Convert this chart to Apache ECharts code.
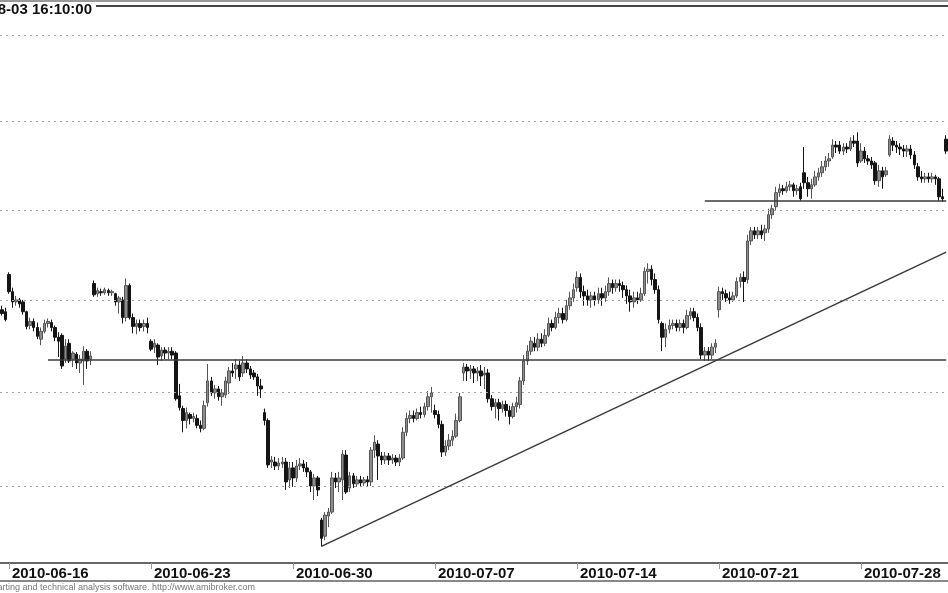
<!DOCTYPE html>
<html><head><meta charset="utf-8">
<script src="https://cdn.jsdelivr.net/npm/echarts@6/dist/echarts.min.js"></script>
<style>html,body{margin:0;padding:0;background:#fff}#c{width:948px;height:593px}</style>
</head><body><div id="c"></div>
<script>
const tradingDays = ['2010-06-15','2010-06-16','2010-06-17','2010-06-18','2010-06-21','2010-06-22','2010-06-23','2010-06-24','2010-06-25','2010-06-28','2010-06-29','2010-06-30','2010-07-01','2010-07-02','2010-07-05','2010-07-06','2010-07-07','2010-07-08','2010-07-09','2010-07-12','2010-07-13','2010-07-14','2010-07-15','2010-07-16','2010-07-19','2010-07-20','2010-07-21','2010-07-22','2010-07-23','2010-07-26','2010-07-27','2010-07-28','2010-07-29','2010-07-30','2010-08-02'];
const sessionHours = ['09:00','10:00','11:00','12:00','13:00','14:00','15:00','16:00'];
const firstBar = 6, barCount = 267;
const weekLabelDays = ['2010-06-16','2010-06-23','2010-06-30','2010-07-07','2010-07-14','2010-07-21','2010-07-28'];
const gridLevels = [2300,2350,2400,2450,2500,2550];
const supportLine = [[13,2367.2],[266,2367.2]];
const resistanceLine = [[198,2455.1],[266,2455.1]];
const trendLine = [[90,2268.4],[266,2426.4]];
const titleText = '2010-08-03 16:10:00';
const footerText = 'AmiBroker - charting and technical analysis software. http://www.amibroker.com';

const openP = [2394.6,2393.5,
2414.0,2404.5,2398.9,2400.0,2398.9,2393.5,2386.0,2388.2,
2384.9,2378.5,2382.8,2387.1,2387.6,2384.9,2379.6,2380.6,
2367.7,2376.3,2367.7,2370.4,2365.6,2366.7,2372.0,2367.7,
2409.0,2403.4,2404.5,2403.9,2405.1,2403.9,2403.4,2398.9,
2400.0,2390.3,2407.9,2390.3,2385.5,2387.1,2385.5,2387.1,
2377.4,2374.2,2375.3,2369.4,2372.6,2371.0,2372.0,2371.0,
2347.9,2341.1,2334.7,2337.9,2335.8,2335.8,2332.1,2330.5,
2344.2,2355.9,2349.5,2351.6,2347.4,2348.4,2354.8,2361.3,
2362.4,2364.5,2360.2,2365.6,2362.4,2360.2,2358.1,2353.2,
2338.9,2334.7,2312.6,2312.6,2310.5,2311.6,2312.6,2303.2,
2309.5,2304.2,2310.5,2311.6,2309.5,2307.4,2300.0,2304.2,
2282.1,2273.7,2284.2,2286.3,2304.2,2302.1,2303.2,2316.3,
2298.9,2305.3,2301.1,2303.2,2301.6,2303.2,2302.1,2318.9,
2322.1,2315.8,2313.7,2315.8,2313.7,2314.7,2312.6,2314.7,
2328.4,2335.8,2337.4,2335.8,2338.9,2337.9,2342.1,2347.4,
2340.0,2337.9,2332.6,2317.9,2321.1,2324.2,2326.3,2334.7,
2360.2,2363.4,2361.3,2362.4,2360.2,2361.3,2359.1,2360.2,
2346.3,2342.1,2344.2,2341.1,2343.2,2340.0,2336.8,2342.1,
2343.2,2355.9,2366.7,2372.0,2376.3,2374.2,2378.5,2376.3,
2380.6,2387.1,2384.9,2390.3,2392.5,2389.2,2396.8,2401.1,
2406.7,2412.4,2404.5,2402.2,2400.0,2402.2,2400.0,2403.4,
2401.1,2404.5,2409.0,2406.7,2409.0,2407.9,2405.6,2402.2,
2398.9,2401.1,2400.0,2403.4,2415.7,2416.9,2411.2,2405.6,
2387.1,2379.6,2383.9,2386.0,2387.1,2384.9,2387.1,2384.9,
2391.4,2393.5,2390.3,2384.9,2369.9,2372.0,2369.9,2374.2,
2394.6,2404.5,2403.4,2401.1,2400.0,2402.2,2410.1,2412.4,
2411.2,2432.6,2438.2,2436.0,2438.2,2437.1,2439.3,2447.2,
2451.7,2459.6,2461.8,2460.7,2462.9,2464.0,2460.7,2462.9,
2470.8,2465.2,2461.8,2464.0,2468.5,2470.8,2474.2,2477.5,
2479.8,2486.5,2486.5,2483.1,2485.4,2484.3,2488.8,2488.8,
2477.5,2483.1,2478.7,2477.5,2476.4,2466.3,2471.9,2469.7,
2480.9,2488.8,2486.5,2485.4,2484.3,2483.1,2484.3,2480.9,
2474.2,2468.5,2467.4,2468.5,2467.4,2468.5,2467.4,2457.3,
2489.9];

const closeP = [2392.5,2389.2,
2404.5,2398.9,2400.0,2397.8,2393.5,2385.5,2388.2,2384.9,
2380.1,2382.8,2387.1,2388.2,2384.9,2379.6,2377.4,2364.0,
2374.7,2366.7,2371.0,2365.6,2367.7,2372.0,2366.7,2369.4,
2402.8,2405.1,2403.9,2405.6,2403.9,2404.5,2398.9,2401.1,
2390.3,2407.9,2390.3,2385.5,2387.1,2384.9,2387.1,2384.9,
2373.1,2376.3,2368.8,2372.6,2371.0,2372.0,2369.9,2346.3,
2341.6,2334.7,2338.9,2335.8,2336.8,2332.1,2330.5,2342.6,
2355.9,2349.5,2351.6,2347.4,2349.5,2355.9,2361.3,2360.2,
2364.5,2358.1,2365.6,2362.4,2359.1,2358.1,2353.2,2351.6,
2334.7,2311.1,2313.7,2310.5,2312.1,2312.6,2302.1,2309.5,
2304.2,2310.5,2311.6,2309.5,2307.4,2300.0,2304.2,2297.9,
2272.6,2284.7,2286.3,2304.2,2302.1,2304.2,2316.8,2296.8,
2305.3,2301.1,2303.2,2301.6,2303.2,2302.1,2318.9,2323.2,
2315.8,2313.7,2315.8,2313.7,2314.7,2312.6,2314.7,2328.4,
2335.8,2337.4,2335.8,2338.9,2337.9,2342.1,2347.4,2349.5,
2337.9,2332.6,2317.9,2321.1,2324.2,2326.3,2334.7,2347.4,
2363.4,2361.3,2362.4,2360.2,2361.3,2358.6,2360.2,2346.3,
2342.1,2344.2,2341.1,2343.2,2340.0,2336.8,2342.1,2344.2,
2355.9,2366.7,2372.0,2377.4,2374.2,2378.5,2376.3,2380.6,
2387.1,2384.9,2390.3,2392.5,2389.2,2396.8,2401.1,2405.6,
2412.4,2404.5,2402.2,2400.0,2402.2,2400.0,2403.4,2401.1,
2404.5,2409.0,2406.7,2409.0,2407.9,2405.6,2402.2,2398.9,
2401.1,2400.0,2403.4,2415.7,2416.9,2411.2,2405.6,2389.2,
2379.6,2383.9,2386.0,2387.1,2384.9,2387.1,2384.9,2391.4,
2393.5,2390.3,2384.9,2369.9,2372.0,2369.9,2374.2,2376.3,
2404.5,2403.4,2401.1,2400.0,2402.2,2410.1,2412.4,2410.1,
2432.6,2438.2,2436.0,2438.2,2436.0,2439.3,2447.2,2450.6,
2459.6,2461.8,2460.7,2462.9,2464.0,2460.7,2461.8,2456.2,
2465.2,2461.8,2464.0,2468.5,2470.8,2474.2,2477.5,2478.7,
2486.5,2485.4,2483.1,2485.4,2484.3,2488.8,2487.6,2476.4,
2483.1,2478.7,2477.5,2475.3,2466.3,2471.9,2468.5,2471.9,
2489.9,2486.5,2485.4,2484.3,2483.1,2484.3,2480.9,2475.3,
2468.5,2467.4,2468.5,2467.4,2468.5,2467.4,2457.3,2456.2,
2483.1];

const lowP = [2391.4,2388.2,
2403.4,2395.7,2396.8,2395.7,2391.9,2383.9,2383.9,2382.8,
2378.5,2375.3,2381.7,2384.9,2382.8,2377.4,2368.8,2362.4,
2365.6,2365.6,2363.4,2362.4,2360.2,2353.8,2362.4,2364.5,
2401.7,2401.7,2402.2,2402.8,2402.2,2402.2,2396.8,2392.5,
2387.1,2388.2,2389.2,2381.7,2381.2,2382.8,2382.8,2381.7,
2372.0,2371.0,2364.5,2366.7,2367.7,2367.7,2367.7,2345.3,
2340.0,2328.4,2330.5,2332.6,2333.7,2330.5,2328.4,2329.5,
2342.1,2347.9,2346.3,2345.3,2342.6,2346.8,2348.9,2358.1,
2357.0,2355.9,2358.1,2360.2,2357.0,2356.5,2347.9,2346.8,
2332.1,2309.5,2309.5,2308.4,2308.4,2309.5,2297.9,2298.9,
2299.5,2302.1,2308.4,2307.4,2304.7,2296.8,2292.6,2294.7,
2268.4,2271.6,2278.4,2285.3,2298.9,2296.8,2292.6,2295.8,
2296.8,2298.9,2299.5,2299.5,2300.0,2299.5,2300.0,2314.7,
2303.2,2311.1,2311.6,2311.1,2311.6,2310.5,2310.5,2313.7,
2326.3,2333.2,2333.7,2334.7,2335.8,2336.3,2340.0,2338.9,
2335.8,2330.5,2315.3,2315.8,2318.9,2321.1,2325.3,2333.7,
2355.9,2355.9,2357.0,2354.8,2355.9,2353.2,2351.6,2344.2,
2340.0,2335.8,2334.7,2338.9,2336.8,2332.6,2335.8,2338.9,
2341.1,2353.8,2364.5,2369.9,2372.0,2372.0,2374.2,2374.7,
2379.6,2382.8,2383.9,2387.1,2387.1,2388.2,2394.6,2398.9,
2404.5,2401.1,2396.8,2396.8,2395.7,2396.8,2397.8,2396.8,
2398.9,2402.2,2403.4,2404.5,2404.5,2401.1,2397.8,2393.5,
2395.7,2397.8,2398.9,2402.2,2409.0,2407.9,2403.4,2387.1,
2372.0,2374.2,2381.7,2383.9,2382.8,2382.8,2381.7,2383.9,
2389.2,2388.2,2382.8,2367.7,2366.7,2366.7,2367.7,2371.0,
2390.3,2400.0,2398.9,2397.8,2398.9,2401.1,2406.7,2398.9,
2409.0,2430.3,2433.7,2433.7,2433.7,2432.6,2437.1,2444.9,
2449.4,2457.3,2458.4,2459.6,2460.7,2457.3,2458.4,2455.1,
2461.8,2457.3,2456.2,2462.9,2466.3,2468.5,2471.9,2474.2,
2478.7,2482.0,2481.5,2480.9,2482.0,2483.1,2485.4,2474.2,
2476.4,2476.4,2475.3,2473.0,2464.0,2462.9,2461.8,2468.5,
2479.8,2483.1,2482.0,2480.9,2479.8,2479.8,2478.7,2473.0,
2466.3,2465.2,2465.2,2465.2,2465.2,2464.0,2455.1,2454.5,
2481.5];

const highP = [2396.8,2395.7,
2415.2,2406.7,2402.2,2401.1,2400.0,2394.1,2390.3,2389.8,
2387.6,2384.9,2389.2,2389.8,2389.2,2386.0,2382.3,2381.7,
2378.5,2378.5,2372.0,2371.5,2369.9,2374.7,2373.1,2372.0,
2410.7,2406.7,2406.2,2406.7,2406.2,2405.6,2403.9,2402.2,
2401.7,2411.8,2409.0,2392.5,2389.2,2389.2,2389.2,2390.3,
2378.5,2378.5,2376.3,2374.2,2374.2,2374.2,2374.2,2372.0,
2354.3,2342.6,2341.6,2338.9,2338.9,2337.9,2334.7,2345.3,
2365.1,2358.1,2353.8,2353.2,2351.6,2358.1,2363.4,2365.6,
2367.7,2366.7,2369.4,2367.7,2364.0,2361.8,2359.7,2357.0,
2341.1,2335.8,2315.8,2315.3,2314.7,2315.3,2314.7,2312.6,
2312.6,2313.7,2314.7,2313.7,2312.6,2308.4,2306.3,2305.3,
2283.2,2286.3,2288.4,2307.4,2306.8,2307.4,2318.9,2318.9,
2307.4,2306.8,2305.3,2305.3,2304.7,2305.3,2320.5,2326.8,
2324.2,2317.9,2317.9,2317.4,2316.8,2316.3,2316.8,2331.1,
2338.9,2340.0,2340.0,2341.1,2342.1,2344.2,2350.5,2352.7,
2343.2,2340.0,2334.7,2324.2,2327.4,2329.5,2338.4,2349.5,
2365.6,2365.1,2364.5,2364.0,2363.4,2364.5,2363.4,2362.4,
2348.4,2346.3,2346.3,2345.3,2345.3,2342.6,2344.2,2347.4,
2358.1,2369.9,2375.3,2379.6,2379.6,2381.7,2381.7,2383.9,
2390.3,2389.2,2393.5,2395.7,2395.7,2400.0,2404.5,2409.0,
2415.7,2414.6,2407.9,2405.6,2404.5,2404.5,2406.7,2406.7,
2407.9,2412.4,2411.2,2411.2,2411.2,2410.1,2407.9,2405.6,
2404.5,2404.5,2406.7,2418.0,2420.2,2419.1,2414.6,2407.9,
2388.2,2387.1,2389.2,2389.2,2389.2,2389.2,2389.2,2394.6,
2395.7,2395.7,2392.5,2387.1,2374.2,2374.2,2376.3,2378.5,
2407.3,2406.7,2405.6,2404.5,2404.5,2412.4,2414.6,2415.7,
2436.0,2440.4,2440.4,2440.4,2441.6,2441.6,2450.6,2452.8,
2462.9,2464.6,2464.0,2465.7,2466.3,2465.2,2464.0,2465.2,
2485.4,2468.5,2467.4,2471.9,2473.6,2477.5,2480.3,2482.0,
2489.9,2488.8,2488.8,2487.6,2487.6,2491.0,2492.1,2493.8,
2487.6,2485.4,2480.9,2479.8,2477.5,2475.3,2474.2,2474.2,
2492.1,2491.0,2488.8,2487.6,2486.5,2486.5,2486.5,2483.1,
2476.4,2471.9,2470.8,2470.8,2470.8,2469.7,2468.5,2461.8,
2492.1];

// build categories
const allBars = [];
tradingDays.forEach(d => sessionHours.forEach(h => allBars.push(d + ' ' + h)));
const categories = allBars.slice(firstBar, firstBar + barCount);
const candleData = categories.map((c, i) => [openP[i], closeP[i], lowP[i], highP[i]]);

const isWeekLabel = (idx, val) => {
  const v = val || categories[idx];
  return v.slice(11) === '09:00' && weekLabelDays.indexOf(v.slice(0, 10)) >= 0;
};

const seg = (pts) => [{coord: [categories[pts[0][0]], pts[0][1]]}, {coord: [categories[pts[1][0]], pts[1][1]]}];

const chart = echarts.init(document.getElementById('c'), null, {renderer: 'canvas'});
chart.setOption({
  animation: false,
  backgroundColor: '#ffffff',
  grid: {left: -1, right: -1, top: 5, bottom: 30, containLabel: false},
  xAxis: {
    type: 'category',
    data: categories,
    boundaryGap: true,
    axisLine: {show: true, lineStyle: {color: '#666', width: 2}},
    axisTick: {show: true, interval: isWeekLabel, alignWithLabel: true, length: 6, lineStyle: {color: '#999', width: 1}},
    axisLabel: {
      interval: isWeekLabel,
      formatter: v => v.slice(0, 10),
      align: 'left',
      padding: [0, 0, 0, 3],
      margin: 3,
      fontSize: 15,
      fontWeight: 'bold',
      fontFamily: 'Liberation Sans, Arial, sans-serif',
      color: '#111',
      hideOverlap: false
    },
    splitLine: {show: false}
  },
  yAxis: {
    type: 'log',
    logBase: 10,
    min: 2259.8,
    max: 2567.5,
    show: false,
    splitLine: {show: false}
  },
  graphic: [
    {type: 'line', shape: {x1: 0, y1: 1, x2: 948, y2: 1}, style: {stroke: '#999', lineWidth: 2}, silent: true},
    {type: 'line', shape: {x1: 96, y1: 6, x2: 948, y2: 6}, style: {stroke: '#444', lineWidth: 2}, silent: true},
    {type: 'line', shape: {x1: 0, y1: 581, x2: 948, y2: 581}, style: {stroke: '#888', lineWidth: 2}, silent: true},
    {type: 'text', x: 92, y: 10, style: {text: titleText, align: 'right', verticalAlign: 'middle', fill: '#111', font: 'bold 15px "Liberation Sans", Arial, sans-serif'}, silent: true},
    {type: 'text', x: 255, y: 588, style: {text: footerText, align: 'right', verticalAlign: 'middle', fill: '#777', font: '9px "Liberation Sans", Arial, sans-serif'}, silent: true}
  ],
  series: [
    {
      type: 'line', data: [], z: 1, silent: true, symbol: 'none',
      markLine: {
        silent: true, symbol: ['none', 'none'], label: {show: false},
        lineStyle: {color: '#a0a0a0', type: [2, 4], width: 1},
        data: gridLevels.map(v => ({yAxis: v}))
      }
    },
    {
      type: 'candlestick',
      data: candleData,
      z: 2,
      barWidth: 3,
      itemStyle: {color: '#8c8c8c', color0: '#151515', borderColor: '#555555', borderColor0: '#151515', borderWidth: 1}
    },
    {
      type: 'line', data: [], z: 3, silent: true, symbol: 'none',
      markLine: {
        silent: true, symbol: ['none', 'none'], label: {show: false},
        lineStyle: {color: '#3a3a3a', type: 'solid', width: 1.5},
        data: [seg(supportLine), seg(resistanceLine), seg(trendLine)]
      }
    }
  ]
});
</script>
</body></html>
